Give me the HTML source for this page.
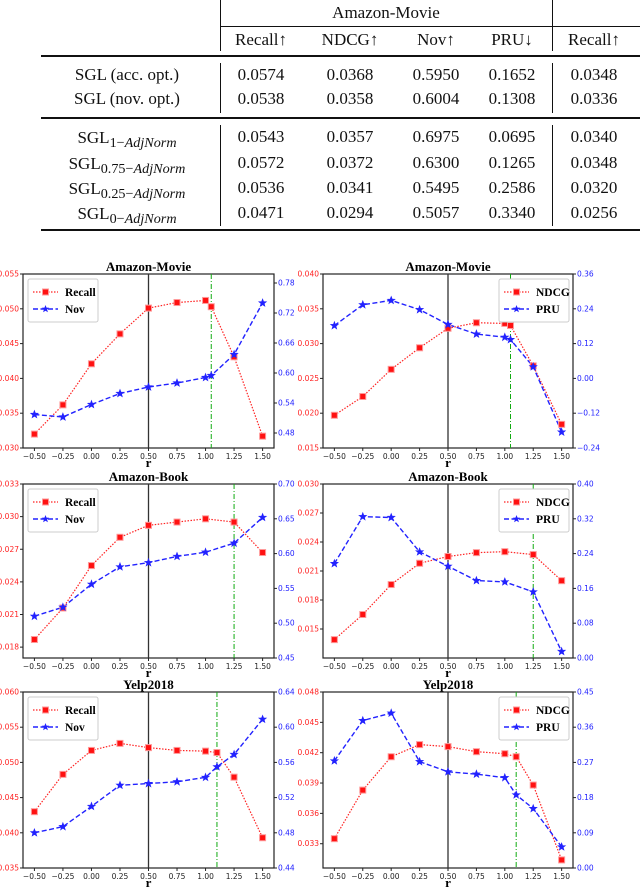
<!DOCTYPE html>
<html><head><meta charset="utf-8">
<style>
body{margin:0;background:#fff;width:640px;height:888px;overflow:hidden;position:relative;font-family:"Liberation Serif",serif;}
#tbl{position:absolute;left:0;top:0;width:640px;height:240px;}
.t{position:absolute;font-size:17px;color:#111;white-space:nowrap;transform:translate(-50%,-50%);}
.hl{position:absolute;background:#111;}
svg{position:absolute;left:0;top:0;}
</style></head><body>
<div id="tbl">
  <div class="hl" style="left:220px;top:26px;width:420px;height:1px"></div>
  <div class="hl" style="left:220px;top:0;width:1px;height:51px"></div>
  <div class="hl" style="left:552px;top:0;width:1px;height:51px"></div>
  <div class="hl" style="left:41px;top:55px;width:599px;height:2px"></div>
  <div class="hl" style="left:220px;top:63px;width:1px;height:50px"></div>
  <div class="hl" style="left:552px;top:63px;width:1px;height:50px"></div>
  <div class="hl" style="left:41px;top:117px;width:599px;height:2px"></div>
  <div class="hl" style="left:220px;top:125px;width:1px;height:101px"></div>
  <div class="hl" style="left:552px;top:125px;width:1px;height:101px"></div>
  <div class="hl" style="left:41px;top:229px;width:599px;height:2px"></div>
  <div class="t" style="left:386px;top:13px">Amazon-Movie</div>
  <div class="t" style="left:261px;top:40px">Recall↑</div>
  <div class="t" style="left:350px;top:40px">NDCG↑</div>
  <div class="t" style="left:436px;top:40px">Nov↑</div>
  <div class="t" style="left:512px;top:40px">PRU↓</div>
  <div class="t" style="left:594px;top:40px">Recall↑</div>
  <div id="rows"></div>
</div>
<svg id="ch" width="640" height="888"></svg>
<script>
const tableLabels=["SGL (acc. opt.)","SGL (nov. opt.)","SGL<sub>1−<i>AdjNorm</i></sub>","SGL<sub>0.75−<i>AdjNorm</i></sub>","SGL<sub>0.25−<i>AdjNorm</i></sub>","SGL<sub>0−<i>AdjNorm</i></sub>"];
const tableVals=[["0.0574","0.0368","0.5950","0.1652","0.0348"],["0.0538","0.0358","0.6004","0.1308","0.0336"],["0.0543","0.0357","0.6975","0.0695","0.0340"],["0.0572","0.0372","0.6300","0.1265","0.0348"],["0.0536","0.0341","0.5495","0.2586","0.0320"],["0.0471","0.0294","0.5057","0.3340","0.0256"]];
const rowY=[75,99,137,163,188,213];const colX=[261,350,436,512,594];
(function(){const r=document.getElementById('rows');let h='';
tableLabels.forEach((l,i)=>{h+=`<div class="t" style="left:127px;top:${rowY[i]+(i>1?3:0)}px">${l}</div>`;
tableVals[i].forEach((v,j)=>{h+=`<div class="t" style="left:${colX[j]}px;top:${rowY[i]}px">${v}</div>`;});});
r.innerHTML=h;})();

// chart data
const xs1=[-0.5,-0.25,0,0.25,0.5,0.75,1.0,1.05,1.25,1.5];
const xs2=[-0.5,-0.25,0,0.25,0.5,0.75,1.0,1.25,1.5];
const xs3=[-0.5,-0.25,0,0.25,0.5,0.75,1.0,1.1,1.25,1.5];
const movieRecall=[0.032,0.0362,0.0421,0.0464,0.0501,0.0509,0.0512,0.0503,0.0431,0.0317];
const movieNov=[0.517,0.512,0.537,0.559,0.572,0.58,0.591,0.595,0.637,0.74];
const movieNdcg=[0.0197,0.0224,0.0263,0.0294,0.0322,0.033,0.0329,0.0326,0.0268,0.0184];
const moviePru=[0.182,0.254,0.269,0.237,0.186,0.153,0.142,0.134,0.04,-0.185];
const bookRecall=[0.0187,0.0216,0.0255,0.0281,0.0292,0.0295,0.0298,0.0295,0.0267];
const bookNov=[0.51,0.523,0.556,0.581,0.587,0.596,0.602,0.615,0.652];
const bookNdcg=[0.0139,0.0165,0.0196,0.0218,0.0225,0.0229,0.023,0.0227,0.02];
const bookPru=[0.217,0.325,0.323,0.244,0.211,0.178,0.175,0.152,0.015];
const yelpRecall=[0.043,0.0483,0.0517,0.0527,0.0521,0.0517,0.0516,0.0514,0.0479,0.0393];
const yelpNov=[0.48,0.487,0.51,0.534,0.536,0.538,0.543,0.555,0.569,0.609];
const yelpNdcg=[0.0335,0.0383,0.0416,0.0428,0.0426,0.0421,0.0419,0.0416,0.0388,0.0314];
const yelpPru=[0.274,0.377,0.396,0.272,0.246,0.24,0.231,0.187,0.152,0.054];
const xTicks=[-0.5,-0.25,0,0.25,0.5,0.75,1.0,1.25,1.5];

const svg=document.getElementById('ch');const NS='http://www.w3.org/2000/svg';
function E(tag,attrs,parent,text){const e=document.createElementNS(NS,tag);for(const k in attrs)e.setAttribute(k,attrs[k]);if(text!==undefined)e.textContent=text;(parent||svg).appendChild(e);return e;}
function fmt(v,d){const s=Math.abs(v).toFixed(d);return (v<-1e-9?'−':'')+s;}
function star(cx,cy,R){let p=[];for(let i=0;i<10;i++){const a=-Math.PI/2+i*Math.PI/5;const r=i%2?R*0.42:R;p.push((cx+r*Math.cos(a)).toFixed(1)+','+(cy+r*Math.sin(a)).toFixed(1));}return p.join(' ');}
function panel(c){
  const g=E('g',{});
  
  
  const X=v=>c.x0+(v+0.6)/2.2*(c.x1-c.x0);
  const YL=v=>c.y1-(v-c.lmin)/(c.lmax-c.lmin)*(c.y1-c.y0);
  const YR=v=>c.y1-(v-c.rmin)/(c.rmax-c.rmin)*(c.y1-c.y0);
  E('rect',{x:c.x0,y:c.y0,width:c.x1-c.x0,height:c.y1-c.y0,fill:'none',stroke:'#222','stroke-width':1.2},g);
  const tt=E('text',{x:(c.x0+c.x1)/2,y:c.y0-3,'text-anchor':'middle','font-size':13,'font-weight':'bold','font-family':'Liberation Serif,serif'},g,c.title);
  
  
  xTicks.forEach(t=>{const x=X(t);E('line',{x1:x,x2:x,y1:c.y1,y2:c.y1+3,stroke:'#222'},g);
    E('text',{x:x,y:c.y1+11,'text-anchor':'middle','font-size':7.5,'font-family':'DejaVu Sans,sans-serif',fill:'#222'},g,fmt(t,2));});
  const xl=E('text',{x:(c.x0+c.x1)/2,y:c.y1+19,'text-anchor':'middle','font-size':13,'font-weight':'bold','font-family':'Liberation Serif,serif'},g,'r');
  
  
  c.lticks.forEach(t=>{const y=YL(t);E('line',{x1:c.x0-3,x2:c.x0,y1:y,y2:y,stroke:'#222'},g);
    E('text',{x:c.x0-4,y:y+2.5,'text-anchor':'end','font-size':7.5,'font-family':'DejaVu Sans,sans-serif',fill:'#f22'},g,fmt(t,3));});
  c.rticks.forEach(t=>{const y=YR(t);E('line',{x1:c.x1,x2:c.x1+3,y1:y,y2:y,stroke:'#222'},g);
    E('text',{x:c.x1+4,y:y+2.5,'text-anchor':'start','font-size':7.5,'font-family':'DejaVu Sans,sans-serif',fill:'#22f'},g,fmt(t,2));});
  E('line',{x1:X(0.5),x2:X(0.5),y1:c.y0,y2:c.y1,stroke:'#333','stroke-width':1.3},g);
  E('line',{x1:X(c.green),x2:X(c.green),y1:c.y0,y2:c.y1,stroke:'#1a1','stroke-width':1,'stroke-dasharray':'5,2,1,2'},g);
  const rp=c.xs.map((x,i)=>X(x)+','+YL(c.red[i])).join(' ');
  const bp=c.xs.map((x,i)=>X(x)+','+YR(c.blue[i])).join(' ');
  const rl=E('polyline',{points:rp,fill:'none',stroke:'#f22','stroke-width':1.2,'stroke-dasharray':'1.5,1.5'},g);
  
  
  const bl=E('polyline',{points:bp,fill:'none',stroke:'#22f','stroke-width':1.4,'stroke-dasharray':'5,2.5'},g);
  
  
  c.xs.forEach((x,i)=>{const m=E('rect',{x:X(x)-3,y:YL(c.red[i])-3,width:6,height:6,fill:'#f11',stroke:'#f99','stroke-width':1},g);
    
    
    const s=E('polygon',{points:star(X(x),YR(c.blue[i]),4),fill:'#22f',stroke:'#22f','stroke-width':0.6},g);
    
    });
  const lx=c.legendLeft?c.x0+5:c.x1-74, ly=c.y0+5;
  const lg=E('g',{},g);
  
  
  E('rect',{x:lx,y:ly,width:70,height:43,fill:'#fff',stroke:'#ccc',rx:2},lg);
  E('line',{x1:lx+5,x2:lx+30,y1:ly+13,y2:ly+13,stroke:'#f22','stroke-width':1.2,'stroke-dasharray':'1.5,1.5'},lg);
  E('rect',{x:lx+14.5,y:ly+10,width:6,height:6,fill:'#f11',stroke:'#f99'},lg);
  E('text',{x:lx+37,y:ly+17,'font-size':11.5,'font-weight':'bold','font-family':'Liberation Serif,serif'},lg,c.redName);
  E('line',{x1:lx+5,x2:lx+30,y1:ly+30,y2:ly+30,stroke:'#22f','stroke-width':1.4,'stroke-dasharray':'5,2.5'},lg);
  E('polygon',{points:star(lx+17.5,ly+30,4),fill:'#22f'},lg);
  E('text',{x:lx+37,y:ly+34,'font-size':11.5,'font-weight':'bold','font-family':'Liberation Serif,serif'},lg,c.blueName);
}
function rng(a,b,s,n){const r=[];for(let i=0;i<n;i++)r.push(a+i*s);return r;}
const AX=[23,274],BX=[323,573];
panel({name:'movie-recall-nov-chart',x0:AX[0],x1:AX[1],y0:274,y1:448,lmin:0.030,lmax:0.055,rmin:0.45,rmax:0.798,lticks:rng(0.030,0.055,0.005,6),rticks:rng(0.48,0.78,0.06,6),title:'Amazon-Movie',xs:xs1,red:movieRecall,blue:movieNov,redName:'Recall',blueName:'Nov',green:1.05,legendLeft:true});
panel({name:'movie-ndcg-pru-chart',x0:BX[0],x1:BX[1],y0:274,y1:448,lmin:0.015,lmax:0.040,rmin:-0.24,rmax:0.36,lticks:rng(0.015,0.040,0.005,6),rticks:rng(-0.24,0.36,0.12,6),title:'Amazon-Movie',xs:xs1,red:movieNdcg,blue:moviePru,redName:'NDCG',blueName:'PRU',green:1.05,legendLeft:false});
panel({name:'book-recall-nov-chart',x0:AX[0],x1:AX[1],y0:484,y1:658,lmin:0.017,lmax:0.033,rmin:0.45,rmax:0.70,lticks:rng(0.018,0.033,0.003,6),rticks:rng(0.45,0.70,0.05,6),title:'Amazon-Book',xs:xs2,red:bookRecall,blue:bookNov,redName:'Recall',blueName:'Nov',green:1.25,legendLeft:true});
panel({name:'book-ndcg-pru-chart',x0:BX[0],x1:BX[1],y0:484,y1:658,lmin:0.012,lmax:0.030,rmin:0,rmax:0.40,lticks:rng(0.015,0.030,0.003,6),rticks:rng(0,0.40,0.08,6),title:'Amazon-Book',xs:xs2,red:bookNdcg,blue:bookPru,redName:'NDCG',blueName:'PRU',green:1.25,legendLeft:false});
panel({name:'yelp-recall-nov-chart',x0:AX[0],x1:AX[1],y0:692,y1:868,lmin:0.035,lmax:0.060,rmin:0.44,rmax:0.64,lticks:rng(0.035,0.060,0.005,6),rticks:rng(0.44,0.64,0.04,6),title:'Yelp2018',xs:xs3,red:yelpRecall,blue:yelpNov,redName:'Recall',blueName:'Nov',green:1.1,legendLeft:true});
panel({name:'yelp-ndcg-pru-chart',x0:BX[0],x1:BX[1],y0:692,y1:868,lmin:0.0306,lmax:0.048,rmin:0,rmax:0.45,lticks:rng(0.033,0.048,0.003,6),rticks:rng(0,0.45,0.09,6),title:'Yelp2018',xs:xs3,red:yelpNdcg,blue:yelpPru,redName:'NDCG',blueName:'PRU',green:1.1,legendLeft:false});
</script>
</body></html>
